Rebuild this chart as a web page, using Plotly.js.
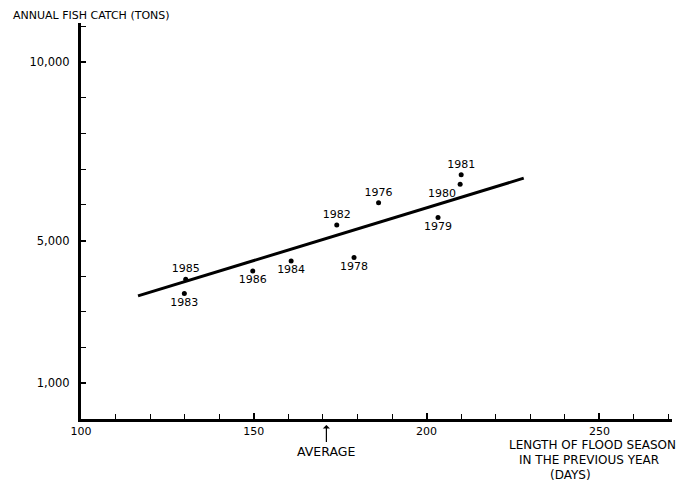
<!DOCTYPE html>
<html>
<head>
<meta charset="utf-8">
<script src="https://cdn.plot.ly/plotly-3.0.1.min.js"></script>
<style>html,body{margin:0;padding:0;background:#fff;}#chart{width:698px;height:483px;}</style>
</head>
<body>
<div id="chart"></div>
<script>
// Observed points: flood season length (days) vs annual fish catch (tons)
const years = ['1985','1983','1986','1984','1978','1982','1976','1979','1980','1981'];
const floodDays = [130.3, 129.9, 149.7, 160.8, 179.0, 174.0, 186.1, 203.3, 209.7, 210.0];
const fishCatch = [3920, 3520, 4150, 4430, 4530, 5440, 6065, 5645, 6580, 6845];
const labelPos = ['top center','bottom center','bottom center','bottom center','bottom center',
                  'top center','top center','bottom center','bottom left','top center'];

// Regression line end points
const fitDays = [116.5, 228.1];
const fitCatch = [3450, 6750];

// Axis ticks
const xTickVals = [100, 150, 200, 250];
const xTickText = ['100', '150', '200', '250'];
const yTickVals = [1000, 5000, 10000];
const yTickText = ['1,000', '5,000', '10,000'];
const averageDays = 171;
const xTitleLines = ['LENGTH OF FLOOD SEASON', 'IN THE PREVIOUS YEAR', '(DAYS)'];

const FONT = 'DejaVu Sans, Arial, sans-serif';
const M = {l: 81, r: 26, t: 23, b: 64};
const W = 698, H = 483;
const plotW = W - M.l - M.r, plotH = H - M.t - M.b;
const px2paperX = p => (p - M.l) / plotW;
const px2paperY = p => (H - M.b - p) / plotH;

const traces = [
  {
    x: fitDays, y: fitCatch, mode: 'lines', type: 'scatter',
    line: {color: '#000', width: 3}, hoverinfo: 'skip'
  },
  {
    x: floodDays, y: fishCatch, mode: 'markers+text', type: 'scatter',
    text: years, textposition: labelPos,
    textfont: {family: FONT, size: 11, color: '#000'},
    marker: {color: '#000', size: 5}, hoverinfo: 'skip', cliponaxis: false
  }
];

const xTitleCenters = [592, 589, 570];
const xTitleY = [444.5, 459.5, 474.5];
const annotations = [
  {
    x: averageDays, xref: 'x', y: px2paperY(425), yref: 'paper',
    text: 'AVERAGE', showarrow: true, ax: 0, ay: 26,
    arrowhead: 1, arrowsize: 1, arrowwidth: 1.2, arrowcolor: '#000',
    font: {family: FONT, size: 12.5, color: '#000'}
  }
];
xTitleLines.forEach((t, i) => {
  annotations.push({
    x: px2paperX(xTitleCenters[i]), xref: 'paper',
    y: px2paperY(xTitleY[i]), yref: 'paper',
    text: t, showarrow: false, xanchor: 'center', yanchor: 'middle',
    borderpad: 0,
    font: {family: FONT, size: 12, color: '#000'}
  });
});

const layout = {
  width: W, height: H,
  margin: M,
  paper_bgcolor: '#fff', plot_bgcolor: '#fff',
  showlegend: false,
  font: {family: FONT, size: 11, color: '#000'},
  title: {
    text: 'ANNUAL FISH CATCH (TONS)',
    font: {family: FONT, size: 11, color: '#000'},
    x: 13 / W, xref: 'container', xanchor: 'left',
    y: 1 - 15 / H, yref: 'container', yanchor: 'middle'
  },
  xaxis: {
    range: [100, 271], showgrid: false, zeroline: false,
    showline: true, linecolor: '#000', linewidth: 3,
    ticks: 'inside', ticklen: 6, tickwidth: 2, tickcolor: '#000',
    tickvals: xTickVals, ticktext: xTickText,
    tickfont: {family: FONT, size: 11, color: '#000'},
    minor: {tick0: 100, dtick: 10, ticks: 'inside', ticklen: 5, tickwidth: 1, tickcolor: '#000', showgrid: false}
  },
  yaxis: {
    range: [0, 11100], showgrid: false, zeroline: false,
    showline: true, linecolor: '#000', linewidth: 3,
    ticks: 'inside', ticklen: 5, tickwidth: 2, tickcolor: '#000',
    tickvals: yTickVals, ticktext: yTickText,
    tickfont: {family: FONT, size: 11.5, color: '#000'},
    ticklabelstandoff: 6,
    minor: {tick0: 0, dtick: 1000, ticks: 'inside', ticklen: 5, tickwidth: 1, tickcolor: '#000', showgrid: false}
  },
  annotations: annotations
};

Plotly.newPlot('chart', traces, layout, {displayModeBar: false, staticPlot: true});
</script>
</body>
</html>
